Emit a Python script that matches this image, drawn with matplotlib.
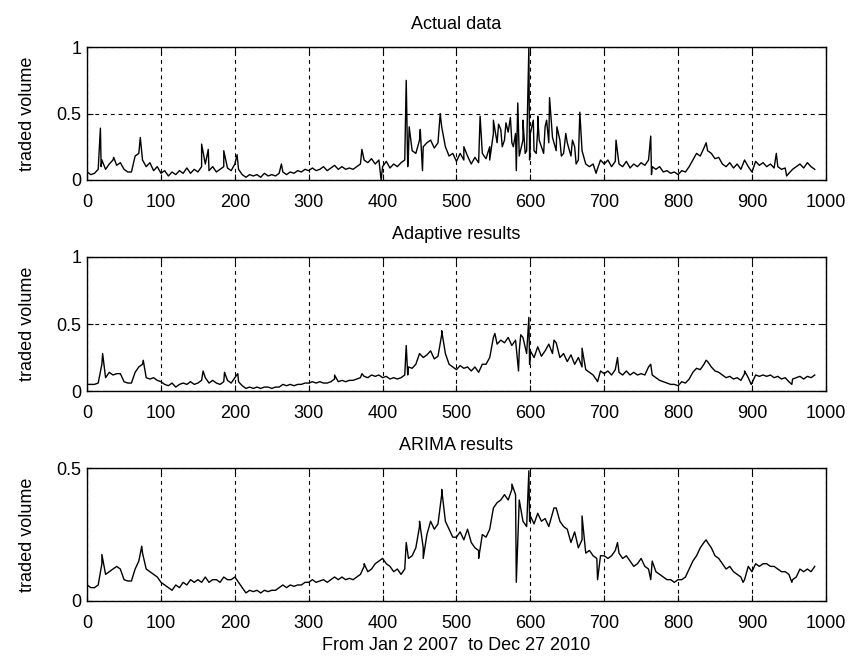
import matplotlib
matplotlib.use("Agg")
import matplotlib.pyplot as plt
import numpy as np

plt.rcParams['font.family'] = ['Liberation Sans', 'DejaVu Sans']

## day index of the base samples (every 5th trading day)
day = np.arange(0, 986, 5)

## Actual data
actual_base = [
    0.06, 0.04, 0.05, 0.08, 0.15, 0.08, 0.12, 0.15, 0.11, 0.13, 0.08, 0.06, 0.06, 0.18, 0.2, 0.15, 0.1, 0.13, 0.07, 0.1,
    0.05, 0.07, 0.03, 0.06, 0.04, 0.07, 0.05, 0.09, 0.05, 0.08, 0.06, 0.1, 0.12, 0.07, 0.1, 0.06, 0.08, 0.1, 0.09, 0.07,
    0.12, 0.08, 0.04, 0.02, 0.04, 0.03, 0.04, 0.02, 0.05, 0.03, 0.04, 0.03, 0.05, 0.06, 0.04, 0.06, 0.05, 0.07, 0.06, 0.08,
    0.07, 0.09, 0.07, 0.08, 0.1, 0.07, 0.09, 0.11, 0.08, 0.1, 0.08, 0.09, 0.08, 0.1, 0.12, 0.15, 0.13, 0.16, 0.12, 0.15,
    0.1, 0.14, 0.09, 0.12, 0.1, 0.13, 0.15, 0.2, 0.22, 0.2, 0.3, 0.25, 0.28, 0.3, 0.24, 0.28, 0.4, 0.25, 0.18, 0.2,
    0.14, 0.2, 0.15, 0.18, 0.12, 0.17, 0.13, 0.2, 0.16, 0.25, 0.35, 0.28, 0.38, 0.3, 0.36, 0.28, 0.35, 0.18, 0.3, 0.22,
    0.35, 0.22, 0.38, 0.25, 0.4, 0.28, 0.32, 0.22, 0.3, 0.2, 0.28, 0.18, 0.25, 0.15, 0.22, 0.12, 0.1, 0.12, 0.07, 0.15,
    0.12, 0.15, 0.1, 0.14, 0.12, 0.1, 0.14, 0.09, 0.12, 0.1, 0.13, 0.11, 0.15, 0.1, 0.08, 0.1, 0.06, 0.07, 0.05, 0.06,
    0.04, 0.07, 0.06, 0.1, 0.15, 0.2, 0.18, 0.24, 0.22, 0.2, 0.16, 0.17, 0.12, 0.1, 0.13, 0.09, 0.12, 0.08, 0.15, 0.1,
    0.06, 0.14, 0.11, 0.13, 0.1, 0.12, 0.09, 0.1, 0.08, 0.09, 0.05, 0.08, 0.1, 0.12, 0.09, 0.13, 0.1, 0.08,
]
actual_spike_day = [18, 19, 36, 72, 155, 164, 185, 203, 263, 372, 398, 432, 434, 436, 451, 454, 478, 510,
                    532, 545, 550, 557, 562, 567, 573, 577, 581, 583, 590, 593, 598, 599, 604, 608, 610, 612,
                    618, 622, 626, 636, 642, 648, 657, 662, 667, 689, 716, 763, 764, 838, 933, 947]
actual_spike_val = [0.39, 0.1, 0.17, 0.32, 0.27, 0.23, 0.22, 0.19, 0.12, 0.23, 0.0, 0.75, 0.1, 0.4, 0.38, 0.07, 0.5, 0.25,
                    0.48, 0.15, 0.45, 0.42, 0.25, 0.43, 0.47, 0.25, 0.07, 0.58, 0.45, 0.2, 1.0, 0.15, 0.45, 0.2, 0.48, 0.3,
                    0.2, 0.45, 0.62, 0.4, 0.18, 0.35, 0.3, 0.12, 0.51, 0.05, 0.3, 0.33, 0.04, 0.28, 0.2, 0.03]

## Adaptive results
adaptive_base = [
    0.05, 0.05, 0.05, 0.06, 0.2, 0.1, 0.14, 0.12, 0.13, 0.13, 0.07, 0.06, 0.06, 0.14, 0.18, 0.2, 0.1, 0.09, 0.1, 0.08,
    0.07, 0.05, 0.04, 0.06, 0.03, 0.05, 0.06, 0.05, 0.07, 0.05, 0.06, 0.08, 0.1, 0.06, 0.08, 0.06, 0.05, 0.07, 0.08, 0.06,
    0.1, 0.07, 0.04, 0.02, 0.03, 0.02, 0.03, 0.02, 0.03, 0.03, 0.02, 0.03, 0.03, 0.05, 0.04, 0.05, 0.04, 0.05, 0.05, 0.06,
    0.06, 0.07, 0.06, 0.07, 0.06, 0.06, 0.07, 0.09, 0.07, 0.08, 0.07, 0.08, 0.08, 0.09, 0.1, 0.11, 0.1, 0.12, 0.11, 0.12,
    0.1, 0.11, 0.09, 0.1, 0.09, 0.1, 0.12, 0.18, 0.17, 0.2, 0.28, 0.25, 0.27, 0.3, 0.24, 0.26, 0.42, 0.28, 0.2, 0.18,
    0.16, 0.19, 0.17, 0.18, 0.15, 0.18, 0.14, 0.2, 0.2, 0.25, 0.4, 0.35, 0.38, 0.36, 0.4, 0.34, 0.38, 0.3, 0.4, 0.28,
    0.3, 0.25, 0.33, 0.26, 0.3, 0.35, 0.28, 0.36, 0.25, 0.28, 0.22, 0.27, 0.2, 0.25, 0.18, 0.16, 0.14, 0.12, 0.08, 0.15,
    0.13, 0.15, 0.12, 0.16, 0.14, 0.12, 0.15, 0.12, 0.14, 0.12, 0.13, 0.12, 0.18, 0.12, 0.1, 0.08, 0.07, 0.06, 0.05, 0.05,
    0.04, 0.07, 0.06, 0.09, 0.14, 0.17, 0.16, 0.2, 0.22, 0.18, 0.15, 0.14, 0.12, 0.1, 0.11, 0.09, 0.1, 0.08, 0.13, 0.1,
    0.06, 0.12, 0.11, 0.12, 0.11, 0.12, 0.1, 0.11, 0.09, 0.1, 0.07, 0.09, 0.1, 0.11, 0.09, 0.11, 0.1, 0.12,
]
adaptive_spike_day = [21, 76, 157, 186, 204, 335, 372, 432, 434, 480, 552, 584, 587, 598, 599, 632, 670, 691,
                      718, 763, 838, 890, 899, 954]
adaptive_spike_val = [0.28, 0.23, 0.15, 0.14, 0.13, 0.12, 0.13, 0.34, 0.12, 0.45, 0.43, 0.15, 0.42, 0.55, 0.2, 0.38, 0.32, 0.07,
                      0.25, 0.2, 0.23, 0.15, 0.05, 0.05]

## ARIMA results
arima_base = [
    0.06, 0.05, 0.05, 0.06, 0.14, 0.1, 0.11, 0.12, 0.13, 0.12, 0.08, 0.075, 0.075, 0.12, 0.15, 0.18, 0.12, 0.11, 0.1, 0.09,
    0.07, 0.06, 0.05, 0.04, 0.06, 0.05, 0.07, 0.06, 0.08, 0.07, 0.08, 0.07, 0.09, 0.07, 0.08, 0.08, 0.07, 0.09, 0.08, 0.08,
    0.09, 0.07, 0.05, 0.03, 0.04, 0.035, 0.04, 0.03, 0.04, 0.035, 0.04, 0.04, 0.05, 0.06, 0.05, 0.06, 0.055, 0.06, 0.06, 0.07,
    0.07, 0.08, 0.07, 0.075, 0.08, 0.07, 0.08, 0.09, 0.08, 0.09, 0.08, 0.085, 0.08, 0.09, 0.1, 0.13, 0.11, 0.12, 0.14, 0.15,
    0.16, 0.14, 0.13, 0.11, 0.12, 0.1, 0.12, 0.16, 0.17, 0.2, 0.28, 0.2, 0.25, 0.3, 0.27, 0.29, 0.4, 0.3, 0.27, 0.24,
    0.24, 0.26, 0.23, 0.27, 0.22, 0.2, 0.19, 0.25, 0.24, 0.27, 0.35, 0.37, 0.38, 0.4, 0.38, 0.42, 0.4, 0.38, 0.3, 0.28,
    0.32, 0.29, 0.33, 0.3, 0.31, 0.28, 0.33, 0.35, 0.3, 0.28, 0.27, 0.22, 0.26, 0.2, 0.23, 0.18, 0.19, 0.17, 0.16, 0.17,
    0.17, 0.16, 0.17, 0.19, 0.18, 0.16, 0.17, 0.15, 0.13, 0.14, 0.16, 0.13, 0.12, 0.15, 0.11, 0.1, 0.09, 0.08, 0.08, 0.07,
    0.08, 0.08, 0.09, 0.12, 0.15, 0.17, 0.2, 0.22, 0.22, 0.2, 0.17, 0.16, 0.14, 0.12, 0.13, 0.11, 0.1, 0.09, 0.08, 0.13,
    0.11, 0.14, 0.13, 0.14, 0.14, 0.13, 0.13, 0.12, 0.11, 0.11, 0.1, 0.08, 0.09, 0.12, 0.11, 0.12, 0.11, 0.13,
]
arima_spike_day = [20, 74, 375, 432, 450, 455, 480, 530, 575, 581, 598, 599, 632, 670, 691, 718, 763, 838, 888, 954]
arima_spike_val = [0.175, 0.206, 0.14, 0.22, 0.3, 0.16, 0.42, 0.16, 0.44, 0.07, 0.49, 0.3, 0.35, 0.32, 0.08, 0.22, 0.08, 0.23, 0.07, 0.07]

titles = ['Actual data', 'Adaptive results', 'ARIMA results']
ylims = [1, 1, 0.5]
yticks = [[0, 0.5, 1], [0, 0.5, 1], [0, 0.5]]
ytick_labels = [['0', '0.5', '1'], ['0', '0.5', '1'], ['0', '0.5']]


def merge(base, spike_day, spike_val):
    # put the spike samples in between the base samples
    x = np.concatenate([day, spike_day])
    y = np.concatenate([base, spike_val])
    order = np.argsort(x, kind='stable')
    return x[order], y[order]


series = [merge(actual_base, actual_spike_day, actual_spike_val),
          merge(adaptive_base, adaptive_spike_day, adaptive_spike_val),
          merge(arima_base, arima_spike_day, arima_spike_val)]

fig = plt.figure(figsize=(8.54, 6.64), dpi=100)
# [left, bottom, width, height] of the 3 panels
positions = [[0.102, 0.729, 0.865, 0.200],
             [0.102, 0.411, 0.865, 0.202],
             [0.102, 0.095, 0.865, 0.200]]

for i in range(3):
    ax = fig.add_axes(positions[i])
    x, y = series[i]
    ax.plot(x, y, color='black', lw=1.0)
    ax.set_xlim(0, 1000)
    ax.set_ylim(0, ylims[i])
    ax.set_xticks(np.arange(0, 1001, 100))
    ax.set_yticks(yticks[i])
    ax.set_yticklabels(ytick_labels[i])
    ax.grid(True, ls=(0, (3.5, 3.5)), color='black', lw=0.8)
    ax.tick_params(direction='in', length=4, labelsize=13, top=True, right=True)
    ax.tick_params(axis='x', pad=10)
    ax.tick_params(axis='y', pad=4)
    for s in ax.spines.values():
        s.set_linewidth(1.0)
    ax.set_title(titles[i], fontsize=13, pad=13)
    ax.set_ylabel('traded volume', fontsize=13, labelpad=15)

ax.set_xlabel('From Jan 2 2007  to Dec 27 2010', fontsize=13, labelpad=4)

fig.savefig('out.png', dpi=100)
